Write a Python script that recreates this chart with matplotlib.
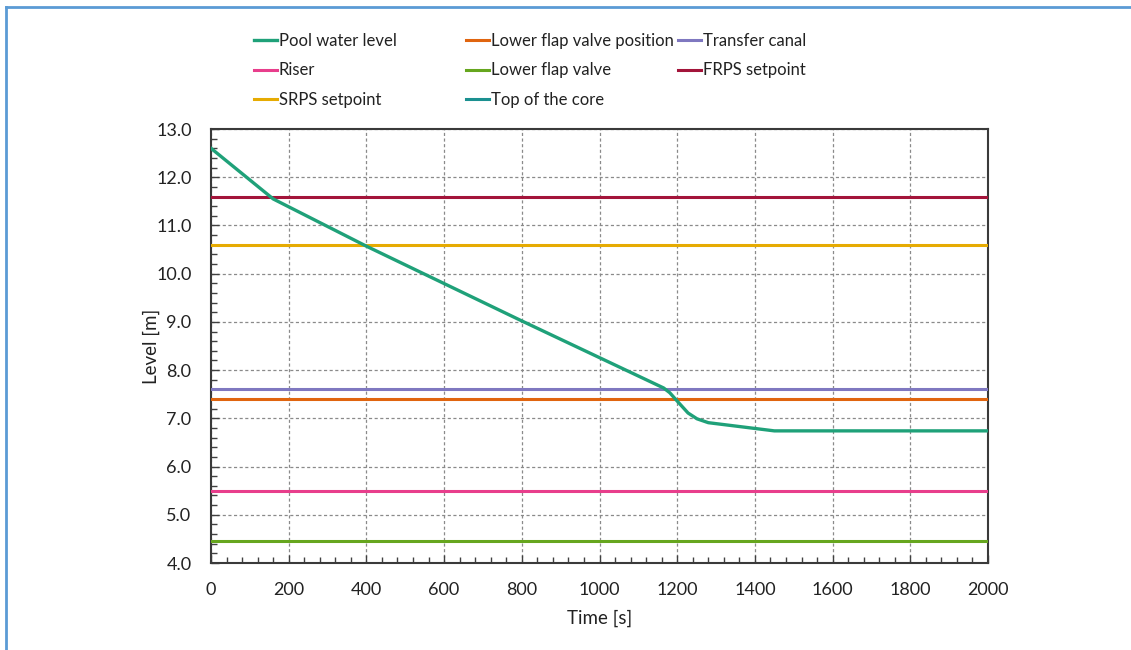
import matplotlib
matplotlib.use("Agg")
import matplotlib.pyplot as plt
from matplotlib.lines import Line2D
from matplotlib.ticker import MultipleLocator

plt.rcParams['font.family'] = ['Lato', 'DejaVu Sans']

# Pool water level curve
pool_time = [0, 160, 400, 800, 1165, 1181, 1202, 1228, 1251, 1280, 1450, 2000]
pool_level = [12.6, 11.55, 10.57, 9.02, 7.63, 7.53, 7.34, 7.11, 6.99, 6.91, 6.74, 6.74]

# Constant reference levels
ref_names = ["Lower flap valve position", "Transfer canal", "Riser",
             "Lower flap valve", "FRPS setpoint", "SRPS setpoint", "Top of the core"]
ref_levels = [7.4, 7.6, 5.5, 4.45, 11.6, 10.6, 3.6]
ref_colors = ["#e0650f", "#7f78c0", "#e83e8c", "#66a61e", "#a3143a", "#e6ab02", "#1b9090"]

time_range = [0, 2000]
pool_color = "#1fa179"

W, H = 1131, 650
fig = plt.figure(figsize=(W / 100, H / 100), dpi=100)
ax = fig.add_axes([211 / W, 1 - 563 / H, (988 - 211) / W, (563 - 129) / H])

handles = {}
(h,) = ax.plot(pool_time, pool_level, color=pool_color, lw=2.4, label="Pool water level", zorder=5)
handles["Pool water level"] = h
for name, lvl, col in zip(ref_names, ref_levels, ref_colors):
    (h,) = ax.plot(time_range, [lvl, lvl], color=col, lw=2.2, label=name, zorder=4)
    handles[name] = h

ax.set_xlim(0, 2000)
ax.set_ylim(4.0, 13.0)
ax.xaxis.set_major_locator(MultipleLocator(200))
ax.xaxis.set_minor_locator(MultipleLocator(40))
ax.yaxis.set_major_locator(MultipleLocator(1.0))
ax.yaxis.set_minor_locator(MultipleLocator(0.2))
ax.yaxis.set_major_formatter(matplotlib.ticker.FormatStrFormatter('%.1f'))
ax.tick_params(which='both', direction='in', colors='#404040', labelcolor='#222222',
               labelsize=13, top=False, right=False)
ax.tick_params(which='major', length=6, width=1)
ax.tick_params(axis='x', which='major', pad=14)
ax.tick_params(axis='y', which='major', pad=14)
ax.tick_params(which='minor', length=4, width=1)
ax.grid(which='major', color='#8a8a8a', linestyle=(0, (2.5, 2)), lw=0.9)
for s in ax.spines.values():
    s.set_color('#3a3a3a')
    s.set_linewidth(1.5)
ax.set_xlabel("Time [s]", fontsize=13.5, color='#222222', labelpad=8)
ax.set_ylabel("Level [m]", fontsize=13.5, color='#222222', labelpad=-3)

# Legend in three equal-width columns
columns = [
    ["Pool water level", "Riser", "SRPS setpoint"],
    ["Lower flap valve position", "Lower flap valve", "Top of the core"],
    ["Transfer canal", "FRPS setpoint"],
]
col_x = [254, 466, 678]
for cx, names in zip(col_x, columns):
    leg = fig.legend([handles[n] for n in names], names, loc='upper left',
                     bbox_to_anchor=(cx / W, 1 - 33 / H), frameon=False,
                     fontsize=12, handlelength=1.35, handletextpad=0.15,
                     labelspacing=0.8, borderaxespad=0, borderpad=0)
    for t in leg.get_texts():
        t.set_color('#222222')

# Outer frame (blue) along left and top
fig.add_artist(Line2D([5.5 / W, 5.5 / W], [0, 1 - 7 / H], color='#5b9bd5', lw=2,
                      transform=fig.transFigure))
fig.add_artist(Line2D([5.5 / W, 1], [1 - 7 / H, 1 - 7 / H], color='#5b9bd5', lw=2,
                      transform=fig.transFigure))

fig.savefig("out.png", dpi=100, facecolor='white')
